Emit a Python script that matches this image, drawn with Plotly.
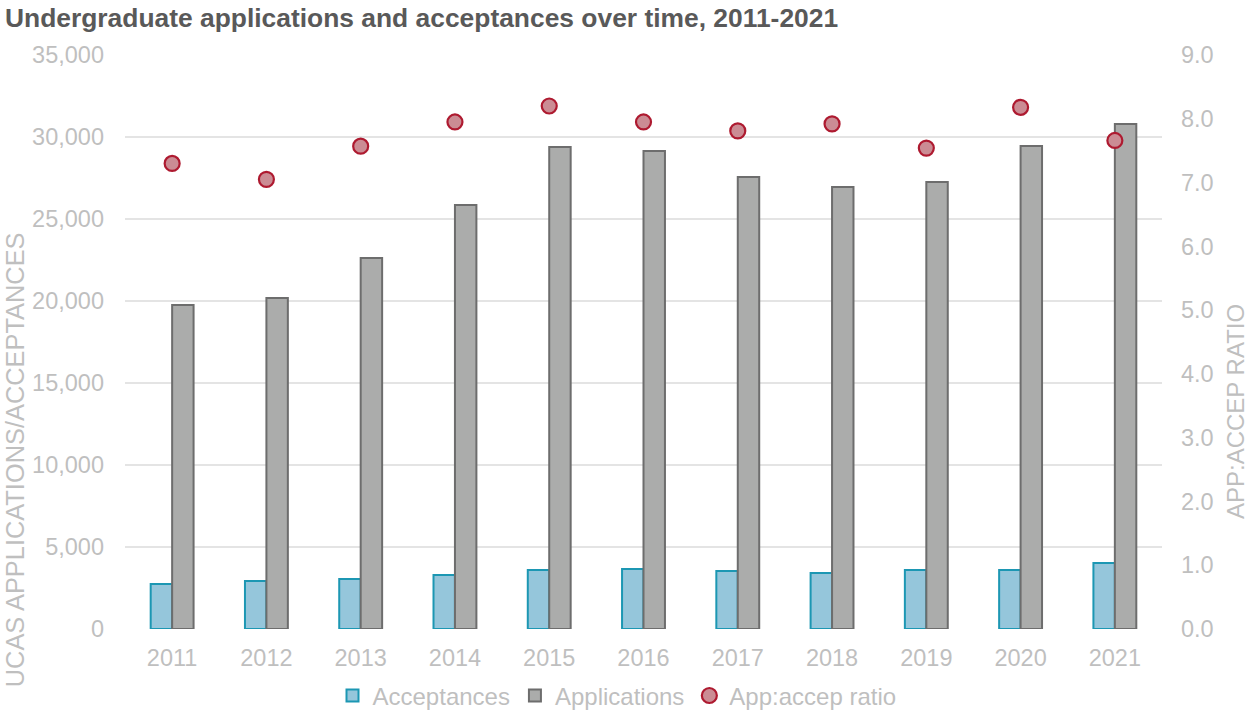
import plotly.graph_objects as go

# Undergraduate UCAS applications, acceptances and the ratio between them
years = ["2011", "2012", "2013", "2014", "2015", "2016", "2017", "2018", "2019", "2020", "2021"]
acceptances = [2740, 2930, 3050, 3290, 3600, 3660, 3540, 3420, 3600, 3600, 4020]
applications = [19750, 20180, 22620, 25850, 29390, 29150, 27560, 26950, 27260, 29450, 30790]
app_accep_ratio = [7.30, 7.05, 7.57, 7.95, 8.20, 7.95, 7.81, 7.92, 7.54, 8.18, 7.66]

FONT = "Liberation Sans, Arial, sans-serif"
TICK_GREY = "#bfbfbf"
GRID_GREY = "#e4e4e4"
TICK_SIZE = 23.5

fig = go.Figure()

fig.add_trace(go.Bar(
    x=years, y=acceptances, name="Acceptances",
    marker=dict(color="#95c6db", line=dict(color="#1c97b3", width=2)),
    yaxis="y",
))
fig.add_trace(go.Bar(
    x=years, y=applications, name="Applications",
    marker=dict(color="#abacab", line=dict(color="#6d6d6d", width=2)),
    yaxis="y",
))
fig.add_trace(go.Scatter(
    x=years, y=app_accep_ratio, name="App:accep ratio", mode="markers",
    marker=dict(symbol="circle", size=15, color="#cb8c94",
                line=dict(color="#ae1a30", width=2.2)),
    yaxis="y2",
))

fig.update_layout(
    width=1249, height=713,
    margin=dict(l=125, r=87, t=55, b=84, autoexpand=False),
    paper_bgcolor="white", plot_bgcolor="white",
    font=dict(family=FONT, size=TICK_SIZE, color=TICK_GREY),
    barmode="group", bargap=0.545, bargroupgap=0,
    title=dict(
        text="<b>Undergraduate applications and acceptances over time, 2011-2021</b>",
        x=0.004, xanchor="left", xref="container", y=0.975, yanchor="middle",
        font=dict(family=FONT, size=26.4, color="#595959"),
    ),
    xaxis=dict(
        type="category", range=[-0.5, 10.5], automargin=False,
        showgrid=False, showline=False, zeroline=False,
        tickfont=dict(family=FONT, size=TICK_SIZE, color=TICK_GREY),
        ticks="", ticklabelstandoff=12,
    ),
    yaxis=dict(
        range=[0, 35000], dtick=5000, tickformat=",", automargin=False,
        showgrid=True, gridcolor=GRID_GREY, gridwidth=2,
        zeroline=False, showline=False, ticks="",
        tickfont=dict(family=FONT, size=TICK_SIZE, color=TICK_GREY),
        ticklabelstandoff=20,
    ),
    yaxis2=dict(
        range=[0, 9], dtick=1, tickformat=".1f", automargin=False,
        overlaying="y", side="right", showgrid=False, zeroline=False,
        showline=False, ticks="",
        tickfont=dict(family=FONT, size=TICK_SIZE, color=TICK_GREY),
        ticklabelstandoff=18,
    ),
    legend=dict(
        orientation="h", x=0.494, xanchor="center", xref="container",
        y=0.024, yanchor="middle", yref="container",
        font=dict(family=FONT, size=24, color=TICK_GREY),
        itemwidth=30, tracegroupgap=0,
    ),
    showlegend=True,
    annotations=[
        dict(text="UCAS APPLICATIONS/ACCEPTANCES", textangle=-90,
             xref="paper", x=0, xshift=-110, xanchor="center",
             yref="paper", y=0.294, yanchor="middle", showarrow=False,
             font=dict(family=FONT, size=25.4, color=TICK_GREY)),
        dict(text="APP:ACCEP RATIO", textangle=-90,
             xref="paper", x=1, xshift=73, xanchor="center",
             yref="paper", y=0.378, yanchor="middle", showarrow=False,
             font=dict(family=FONT, size=24, color=TICK_GREY)),
    ],
)

fig.write_html("out.html")
